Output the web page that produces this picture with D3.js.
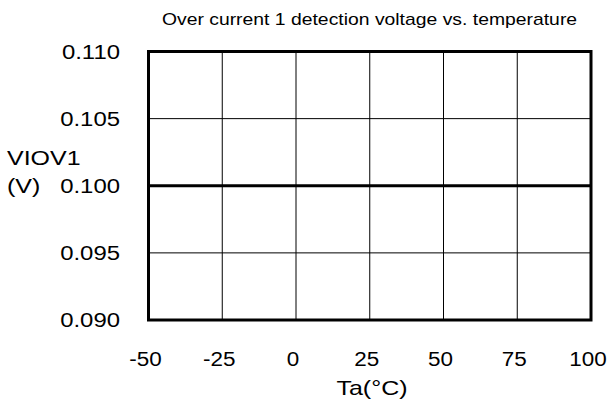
<!DOCTYPE html>
<html>
<head>
<meta charset="utf-8">
<script src="https://cdn.jsdelivr.net/npm/d3@7"></script>
<style>
  body { margin: 0; background: #fff; }
  svg { display: block; font-family: "Liberation Sans", Arial, sans-serif; }
</style>
</head>
<body>
<svg></svg>
<script>
const width = 608;
const height = 403;

// Chart values
const temperatures = [-50, -25, 0, 25, 50, 75, 100];
const voltageTicks = [0.090, 0.095, 0.100, 0.105, 0.110];
const seriesTemp = [-50, 100];
const seriesVolt = [0.100, 0.100];

const margin = { left: 148.5, right: 17, top: 51.5, bottom: 83 };

const svg = d3.select("svg")
    .attr("width", width)
    .attr("height", height);

const x = d3.scaleLinear()
    .domain([-50, 100])
    .range([margin.left, width - margin.right]);

const y = d3.scaleLinear()
    .domain([0.090, 0.110])
    .range([height - margin.bottom, margin.top]);

// the source graph text is drawn a bit wide, so stretch it horizontally
function label(g, tx, ty, size, sx, anchor, str) {
    return g.append("text")
        .attr("transform", `translate(${tx},${ty}) scale(${sx},1)`)
        .attr("text-anchor", anchor)
        .attr("font-size", size + "px")
        .text(str);
}

// Title
label(svg, 369.5, 25, 16, 1.21, "middle", "Over current 1 detection voltage vs. temperature");

// Grid lines
svg.append("g")
    .selectAll("line")
    .data(temperatures.slice(1, -1))
    .join("line")
    .attr("x1", d => x(d)).attr("x2", d => x(d))
    .attr("y1", y(0.110)).attr("y2", y(0.090))
    .attr("stroke", "#000").attr("stroke-width", 1);

svg.append("g")
    .selectAll("line")
    .data(voltageTicks.slice(1, -1))
    .join("line")
    .attr("x1", x(-50)).attr("x2", x(100))
    .attr("y1", d => y(d)).attr("y2", d => y(d))
    .attr("stroke", "#000").attr("stroke-width", 1);

// Data line
svg.append("path")
    .datum(seriesTemp.map((t, i) => [t, seriesVolt[i]]))
    .attr("fill", "none")
    .attr("stroke", "#000")
    .attr("stroke-width", 3)
    .attr("d", d3.line().x(d => x(d[0])).y(d => y(d[1])));

// Plot frame
svg.append("rect")
    .attr("x", x(-50)).attr("y", y(0.110))
    .attr("width", x(100) - x(-50))
    .attr("height", y(0.090) - y(0.110))
    .attr("fill", "none")
    .attr("stroke", "#000")
    .attr("stroke-width", 3);

// Tick labels
const yLabels = svg.append("g");
voltageTicks.forEach(d => label(yLabels, 120, y(d) + 7, 21, 1.14, "end", d3.format(".3f")(d)));

const xLabels = svg.append("g");
temperatures.forEach(d => label(xLabels, x(d) - 3, 366, 21, 1.07, "middle", d));

// Axis titles
label(svg, 7, 165, 21, 1.19, "start", "VIOV1");
label(svg, 7, 193, 21, 1.19, "start", "(V)");
label(svg, 372, 395, 21, 1.19, "middle", "Ta(°C)");
</script>
</body>
</html>
